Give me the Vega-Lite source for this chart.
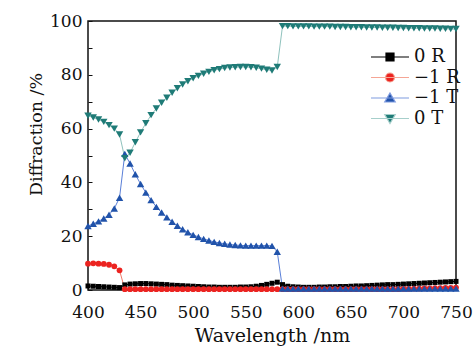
{
"$schema":"https://vega.github.io/schema/vega-lite/v6.json",
"width":368,"height":269,
"autosize":{"type":"none"},
"padding":{"left":88,"top":21,"right":17,"bottom":57},
"background":"white",
"config":{"view":{"stroke":"#111","strokeWidth":1.5},"font":"DejaVu Serif",
"legend":{"symbolSize":100,"symbolStrokeWidth":1.2,"labelFontSize":18,"labelFont":"DejaVu Serif","labelColor":"#111","rowPadding":2.5,"labelOffset":3,"padding":0,"symbolOpacity":1}},
"datasets":{"d":[
{"w":400,"s":"0 R","v":1.5},{"w":405,"s":"0 R","v":1.4},{"w":410,"s":"0 R","v":1.3},{"w":415,"s":"0 R","v":1.2},{"w":420,"s":"0 R","v":1.1},{"w":425,"s":"0 R","v":1.0},{"w":430,"s":"0 R","v":0.9},
{"w":435,"s":"0 R","v":1.9},{"w":440,"s":"0 R","v":2.2},{"w":445,"s":"0 R","v":2.3},{"w":450,"s":"0 R","v":2.4},{"w":455,"s":"0 R","v":2.4},{"w":460,"s":"0 R","v":2.3},{"w":465,"s":"0 R","v":2.2},{"w":470,"s":"0 R","v":2.1},{"w":475,"s":"0 R","v":2.0},{"w":480,"s":"0 R","v":1.8},
{"w":485,"s":"0 R","v":1.7},{"w":490,"s":"0 R","v":1.6},{"w":495,"s":"0 R","v":1.5},{"w":500,"s":"0 R","v":1.4},{"w":505,"s":"0 R","v":1.3},{"w":510,"s":"0 R","v":1.2},{"w":515,"s":"0 R","v":1.1},{"w":520,"s":"0 R","v":1.1},{"w":525,"s":"0 R","v":1.0},{"w":530,"s":"0 R","v":1.0},
{"w":535,"s":"0 R","v":1.0},{"w":540,"s":"0 R","v":1.0},{"w":545,"s":"0 R","v":1.1},{"w":550,"s":"0 R","v":1.1},{"w":555,"s":"0 R","v":1.2},{"w":560,"s":"0 R","v":1.4},{"w":565,"s":"0 R","v":1.7},{"w":570,"s":"0 R","v":2.1},{"w":575,"s":"0 R","v":2.5},{"w":580,"s":"0 R","v":2.9},
{"w":585,"s":"0 R","v":2.0},{"w":590,"s":"0 R","v":1.4},{"w":595,"s":"0 R","v":1.2},{"w":600,"s":"0 R","v":1.1},{"w":605,"s":"0 R","v":1.0},{"w":610,"s":"0 R","v":1.0},{"w":615,"s":"0 R","v":1.0},{"w":620,"s":"0 R","v":1.1},{"w":625,"s":"0 R","v":1.1},{"w":630,"s":"0 R","v":1.2},
{"w":635,"s":"0 R","v":1.2},{"w":640,"s":"0 R","v":1.3},{"w":645,"s":"0 R","v":1.3},{"w":650,"s":"0 R","v":1.4},{"w":655,"s":"0 R","v":1.5},{"w":660,"s":"0 R","v":1.5},{"w":665,"s":"0 R","v":1.6},{"w":670,"s":"0 R","v":1.7},{"w":675,"s":"0 R","v":1.8},{"w":680,"s":"0 R","v":1.9},
{"w":685,"s":"0 R","v":2.0},{"w":690,"s":"0 R","v":2.0},{"w":695,"s":"0 R","v":2.1},{"w":700,"s":"0 R","v":2.2},{"w":705,"s":"0 R","v":2.3},{"w":710,"s":"0 R","v":2.4},{"w":715,"s":"0 R","v":2.5},{"w":720,"s":"0 R","v":2.6},{"w":725,"s":"0 R","v":2.7},{"w":730,"s":"0 R","v":2.8},
{"w":735,"s":"0 R","v":2.9},{"w":740,"s":"0 R","v":3.0},{"w":745,"s":"0 R","v":3.1},{"w":750,"s":"0 R","v":3.2},

{"w":400,"s":"−1 R","v":9.8},{"w":405,"s":"−1 R","v":9.9},{"w":410,"s":"−1 R","v":9.8},{"w":415,"s":"−1 R","v":9.7},{"w":420,"s":"−1 R","v":9.4},{"w":425,"s":"−1 R","v":8.8},{"w":430,"s":"−1 R","v":7.3},
{"w":435,"s":"−1 R","v":0.3},{"w":440,"s":"−1 R","v":0.3},{"w":445,"s":"−1 R","v":0.3},{"w":450,"s":"−1 R","v":0.3},{"w":455,"s":"−1 R","v":0.3},{"w":460,"s":"−1 R","v":0.3},{"w":465,"s":"−1 R","v":0.3},{"w":470,"s":"−1 R","v":0.3},{"w":475,"s":"−1 R","v":0.3},{"w":480,"s":"−1 R","v":0.3},
{"w":485,"s":"−1 R","v":0.3},{"w":490,"s":"−1 R","v":0.3},{"w":495,"s":"−1 R","v":0.3},{"w":500,"s":"−1 R","v":0.3},{"w":505,"s":"−1 R","v":0.3},{"w":510,"s":"−1 R","v":0.3},{"w":515,"s":"−1 R","v":0.3},{"w":520,"s":"−1 R","v":0.3},{"w":525,"s":"−1 R","v":0.3},{"w":530,"s":"−1 R","v":0.3},
{"w":535,"s":"−1 R","v":0.3},{"w":540,"s":"−1 R","v":0.3},{"w":545,"s":"−1 R","v":0.3},{"w":550,"s":"−1 R","v":0.3},{"w":555,"s":"−1 R","v":0.3},{"w":560,"s":"−1 R","v":0.3},{"w":565,"s":"−1 R","v":0.3},{"w":570,"s":"−1 R","v":0.3},{"w":575,"s":"−1 R","v":0.3},{"w":580,"s":"−1 R","v":0.3},
{"w":585,"s":"−1 R","v":0.3},{"w":590,"s":"−1 R","v":0.3},{"w":595,"s":"−1 R","v":0.3},{"w":600,"s":"−1 R","v":0.3},{"w":605,"s":"−1 R","v":0.3},{"w":610,"s":"−1 R","v":0.3},{"w":615,"s":"−1 R","v":0.3},{"w":620,"s":"−1 R","v":0.3},{"w":625,"s":"−1 R","v":0.3},{"w":630,"s":"−1 R","v":0.3},
{"w":635,"s":"−1 R","v":0.3},{"w":640,"s":"−1 R","v":0.3},{"w":645,"s":"−1 R","v":0.3},{"w":650,"s":"−1 R","v":0.3},{"w":655,"s":"−1 R","v":0.3},{"w":660,"s":"−1 R","v":0.3},{"w":665,"s":"−1 R","v":0.3},{"w":670,"s":"−1 R","v":0.3},{"w":675,"s":"−1 R","v":0.3},{"w":680,"s":"−1 R","v":0.3},
{"w":685,"s":"−1 R","v":0.3},{"w":690,"s":"−1 R","v":0.3},{"w":695,"s":"−1 R","v":0.3},{"w":700,"s":"−1 R","v":0.4},{"w":705,"s":"−1 R","v":0.4},{"w":710,"s":"−1 R","v":0.5},{"w":715,"s":"−1 R","v":0.5},{"w":720,"s":"−1 R","v":0.6},{"w":725,"s":"−1 R","v":0.6},{"w":730,"s":"−1 R","v":0.7},
{"w":735,"s":"−1 R","v":0.7},{"w":740,"s":"−1 R","v":0.8},{"w":745,"s":"−1 R","v":0.8},{"w":750,"s":"−1 R","v":0.9},

{"w":400,"s":"−1 T","v":23.8},{"w":405,"s":"−1 T","v":24.6},{"w":410,"s":"−1 T","v":25.5},{"w":415,"s":"−1 T","v":26.6},{"w":420,"s":"−1 T","v":28.0},{"w":425,"s":"−1 T","v":30.3},{"w":430,"s":"−1 T","v":34.3},
{"w":435,"s":"−1 T","v":50.6},{"w":440,"s":"−1 T","v":47.0},{"w":445,"s":"−1 T","v":43.0},{"w":450,"s":"−1 T","v":39.4},{"w":455,"s":"−1 T","v":36.2},{"w":460,"s":"−1 T","v":33.4},{"w":465,"s":"−1 T","v":30.9},{"w":470,"s":"−1 T","v":28.8},{"w":475,"s":"−1 T","v":27.0},{"w":480,"s":"−1 T","v":25.4},
{"w":485,"s":"−1 T","v":23.9},{"w":490,"s":"−1 T","v":22.6},{"w":495,"s":"−1 T","v":21.5},{"w":500,"s":"−1 T","v":20.5},{"w":505,"s":"−1 T","v":19.7},{"w":510,"s":"−1 T","v":19.0},{"w":515,"s":"−1 T","v":18.4},{"w":520,"s":"−1 T","v":17.9},{"w":525,"s":"−1 T","v":17.5},{"w":530,"s":"−1 T","v":17.2},
{"w":535,"s":"−1 T","v":16.9},{"w":540,"s":"−1 T","v":16.7},{"w":545,"s":"−1 T","v":16.6},{"w":550,"s":"−1 T","v":16.5},{"w":555,"s":"−1 T","v":16.5},{"w":560,"s":"−1 T","v":16.5},{"w":565,"s":"−1 T","v":16.5},{"w":570,"s":"−1 T","v":16.5},{"w":575,"s":"−1 T","v":16.4},{"w":580,"s":"−1 T","v":14.2},
{"w":585,"s":"−1 T","v":0.5},{"w":590,"s":"−1 T","v":0.5},{"w":595,"s":"−1 T","v":0.5},{"w":600,"s":"−1 T","v":0.5},{"w":605,"s":"−1 T","v":0.5},{"w":610,"s":"−1 T","v":0.5},{"w":615,"s":"−1 T","v":0.5},{"w":620,"s":"−1 T","v":0.5},{"w":625,"s":"−1 T","v":0.5},{"w":630,"s":"−1 T","v":0.5},
{"w":635,"s":"−1 T","v":0.5},{"w":640,"s":"−1 T","v":0.5},{"w":645,"s":"−1 T","v":0.5},{"w":650,"s":"−1 T","v":0.5},{"w":655,"s":"−1 T","v":0.5},{"w":660,"s":"−1 T","v":0.5},{"w":665,"s":"−1 T","v":0.5},{"w":670,"s":"−1 T","v":0.5},{"w":675,"s":"−1 T","v":0.5},{"w":680,"s":"−1 T","v":0.5},
{"w":685,"s":"−1 T","v":0.5},{"w":690,"s":"−1 T","v":0.5},{"w":695,"s":"−1 T","v":0.5},{"w":700,"s":"−1 T","v":0.5},{"w":705,"s":"−1 T","v":0.5},{"w":710,"s":"−1 T","v":0.5},{"w":715,"s":"−1 T","v":0.5},{"w":720,"s":"−1 T","v":0.5},{"w":725,"s":"−1 T","v":0.5},{"w":730,"s":"−1 T","v":0.5},
{"w":735,"s":"−1 T","v":0.5},{"w":740,"s":"−1 T","v":0.5},{"w":745,"s":"−1 T","v":0.5},{"w":750,"s":"−1 T","v":0.5},

{"w":400,"s":"0 T","v":64.8},{"w":405,"s":"0 T","v":64.1},{"w":410,"s":"0 T","v":63.4},{"w":415,"s":"0 T","v":62.5},{"w":420,"s":"0 T","v":61.3},{"w":425,"s":"0 T","v":60.0},{"w":430,"s":"0 T","v":57.8},
{"w":435,"s":"0 T","v":49.0},{"w":440,"s":"0 T","v":51.0},{"w":445,"s":"0 T","v":54.9},{"w":450,"s":"0 T","v":58.6},{"w":455,"s":"0 T","v":62.0},{"w":460,"s":"0 T","v":65.0},{"w":465,"s":"0 T","v":67.5},{"w":470,"s":"0 T","v":69.6},{"w":475,"s":"0 T","v":71.5},{"w":480,"s":"0 T","v":73.3},
{"w":485,"s":"0 T","v":75.0},{"w":490,"s":"0 T","v":76.4},{"w":495,"s":"0 T","v":77.6},{"w":500,"s":"0 T","v":78.7},{"w":505,"s":"0 T","v":79.6},{"w":510,"s":"0 T","v":80.4},{"w":515,"s":"0 T","v":81.1},{"w":520,"s":"0 T","v":81.7},{"w":525,"s":"0 T","v":82.1},{"w":530,"s":"0 T","v":82.5},
{"w":535,"s":"0 T","v":82.7},{"w":540,"s":"0 T","v":82.8},{"w":545,"s":"0 T","v":82.9},{"w":550,"s":"0 T","v":82.9},{"w":555,"s":"0 T","v":82.8},{"w":560,"s":"0 T","v":82.6},{"w":565,"s":"0 T","v":82.3},{"w":570,"s":"0 T","v":81.9},{"w":575,"s":"0 T","v":81.6},{"w":580,"s":"0 T","v":82.9},
{"w":585,"s":"0 T","v":98.1},{"w":590,"s":"0 T","v":98.1},{"w":595,"s":"0 T","v":98.0},{"w":600,"s":"0 T","v":98.0},{"w":605,"s":"0 T","v":98.0},{"w":610,"s":"0 T","v":98.0},{"w":615,"s":"0 T","v":97.9},{"w":620,"s":"0 T","v":97.9},{"w":625,"s":"0 T","v":97.9},{"w":630,"s":"0 T","v":97.9},
{"w":635,"s":"0 T","v":97.8},{"w":640,"s":"0 T","v":97.8},{"w":645,"s":"0 T","v":97.8},{"w":650,"s":"0 T","v":97.7},{"w":655,"s":"0 T","v":97.7},{"w":660,"s":"0 T","v":97.7},{"w":665,"s":"0 T","v":97.6},{"w":670,"s":"0 T","v":97.6},{"w":675,"s":"0 T","v":97.6},{"w":680,"s":"0 T","v":97.5},
{"w":685,"s":"0 T","v":97.5},{"w":690,"s":"0 T","v":97.5},{"w":695,"s":"0 T","v":97.4},{"w":700,"s":"0 T","v":97.4},{"w":705,"s":"0 T","v":97.3},{"w":710,"s":"0 T","v":97.3},{"w":715,"s":"0 T","v":97.3},{"w":720,"s":"0 T","v":97.2},{"w":725,"s":"0 T","v":97.2},{"w":730,"s":"0 T","v":97.2},
{"w":735,"s":"0 T","v":97.1},{"w":740,"s":"0 T","v":97.1},{"w":745,"s":"0 T","v":97.0},{"w":750,"s":"0 T","v":97.0}
]},
"data":{"name":"d"},
"encoding":{
"x":{"field":"w","type":"quantitative","scale":{"domain":[400,750],"nice":false,"zero":false},
"axis":{"values":[400,450,500,550,600,650,700,750],"title":"Wavelength /nm","grid":false,"domain":false,"tickSize":-4,"tickColor":"#111","labelPadding":18,"labelFontSize":17,"labelColor":"#111","labelFont":"DejaVu Serif","titleFont":"DejaVu Serif","titleFontSize":19,"titleFontWeight":"normal","titleColor":"#111","titlePadding":6,"labelFlush":false}},
"y":{"field":"v","type":"quantitative","scale":{"domain":[0,100],"nice":false},
"axis":{"values":[0,10,20,30,40,50,60,70,80,90,100],"labelExpr":"datum.value % 20 === 0 ? datum.label : ''","title":"Diffraction /%","grid":false,"domain":false,"tickSize":-4,"tickColor":"#111","labelPadding":10,"labelFontSize":17,"labelColor":"#111","labelFont":"DejaVu Serif","titleFont":"DejaVu Serif","titleFontSize":17.5,"titleFontWeight":"normal","titleColor":"#111","titleX":-52,"titleY":113,"titleAlign":"center","titleBaseline":"middle","titleAngle":-90,"labelFlush":false}}
},
"layer":[
{"transform":[{"filter":"datum.s === '0 R'"}],"mark":{"type":"line","color":"#000000","strokeWidth":1}},
{"transform":[{"filter":"datum.s === '−1 R'"}],"mark":{"type":"line","color":"#f07868","strokeWidth":1}},
{"transform":[{"filter":"datum.s === '−1 T'"}],"mark":{"type":"line","color":"#5a7fd8","strokeWidth":1}},
{"transform":[{"filter":"datum.s === '0 T'"}],"mark":{"type":"line","color":"#8fc2bd","strokeWidth":1}},
{"transform":[{"filter":"datum.s === '0 R'"}],"mark":{"type":"point","shape":"square","filled":true,"color":"#000000","size":25,"opacity":1,"strokeWidth":0}},
{"transform":[{"filter":"datum.s === '−1 R'"}],"mark":{"type":"point","shape":"circle","filled":true,"color":"#ec2320","size":34,"opacity":1,"strokeWidth":0}},
{"transform":[{"filter":"datum.s === '−1 T'"}],"mark":{"type":"point","shape":"triangle-up","filled":true,"color":"#2153aa","size":55,"opacity":1,"strokeWidth":0}},
{"transform":[{"filter":"datum.s === '0 T'"}],"mark":{"type":"point","shape":"triangle-down","filled":true,"color":"#1f7b77","size":55,"opacity":1,"strokeWidth":0}},
{"mark":{"type":"point","filled":true,"opacity":0},
"encoding":{
"fill":{"field":"s","type":"nominal","scale":{"domain":["0 R","−1 R","−1 T","0 T"],"range":["#000000","#ec2320","#2153aa","#1f7b77"]},"legend":{"title":null,"orient":"none","legendX":305,"legendY":27}},
"stroke":{"field":"s","type":"nominal","scale":{"domain":["0 R","−1 R","−1 T","0 T"],"range":["#000000","#f5a595","#7f9be0","#a6cfcb"]},"legend":{"title":null,"orient":"none","legendX":305,"legendY":27}},
"shape":{"field":"s","type":"nominal","scale":{"domain":["0 R","−1 R","−1 T","0 T"],"range":["M-6.2,0H1.4M-3.2,-0.8H-1.6V0.8H-3.2Z","M-6.2,0H1.4M-1.5,0A0.9,0.9,0,1,1,-3.3,0A0.9,0.9,0,1,1,-1.5,0Z","M-6.2,0H1.4M-2.4,-1.0L-1.35,0.8L-3.45,0.8Z","M-6.2,0H1.4M-2.4,1.0L-1.35,-0.8L-3.45,-0.8Z"]},"legend":{"title":null,"orient":"none","legendX":305,"legendY":27}}
}}
]
}
